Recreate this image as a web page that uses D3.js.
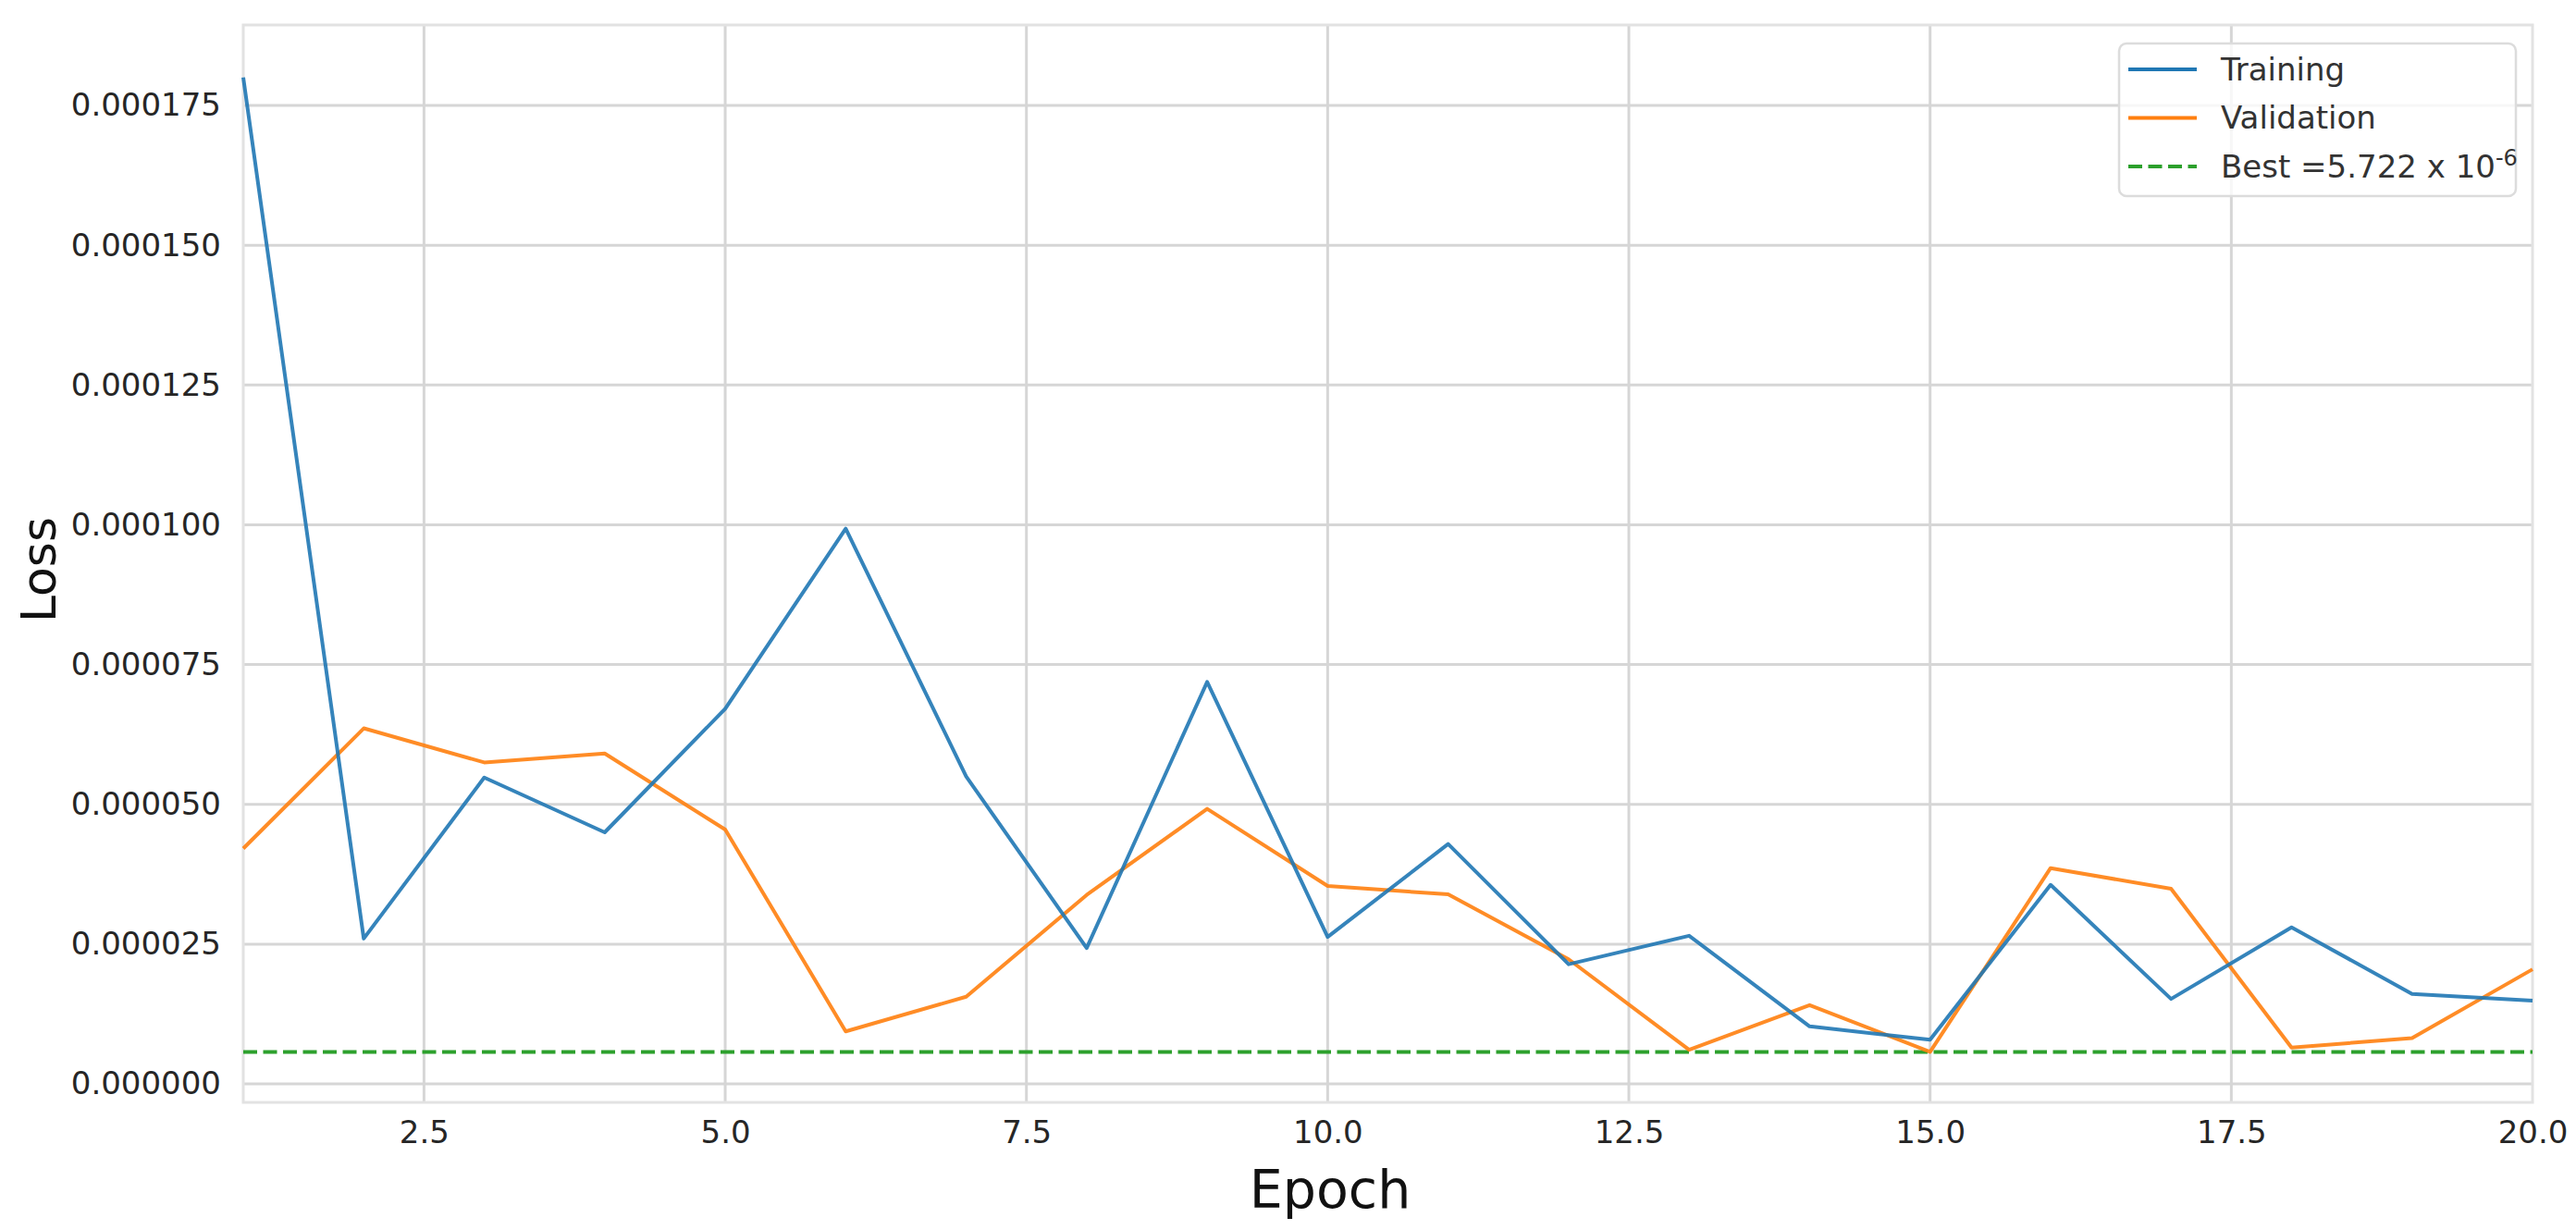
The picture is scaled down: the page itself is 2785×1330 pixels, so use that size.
<!DOCTYPE html>
<html>
<head>
<meta charset="utf-8">
<script src="https://d3js.org/d3.v7.min.js"></script>
<style>
    body { margin: 0; background: white; }
    text { font-family: "DejaVu Sans", sans-serif; }
</style>
</head>
<body>
<svg id="chart-container"></svg>
<script>
// loss per epoch
var epochs = [1, 2, 3, 4, 5, 6, 7, 8, 9, 10, 11, 12, 13, 14, 15, 16, 17, 18, 19, 20];
var trainingLoss = [180.0e-6, 26.0e-6, 54.8e-6, 45.0e-6, 67.1e-6, 99.3e-6, 55.0e-6, 24.3e-6, 71.9e-6, 26.3e-6,
                    42.9e-6, 21.4e-6, 26.5e-6, 10.3e-6, 7.9e-6, 35.6e-6, 15.2e-6, 28.0e-6, 16.1e-6, 14.9e-6];
var validationLoss = [42.1e-6, 63.6e-6, 57.5e-6, 59.1e-6, 45.5e-6, 9.4e-6, 15.6e-6, 33.8e-6, 49.2e-6, 35.4e-6,
                      33.9e-6, 22.3e-6, 6.1e-6, 14.1e-6, 5.722e-6, 38.6e-6, 34.9e-6, 6.5e-6, 8.2e-6, 20.5e-6];
var bestLoss = 5.722e-6;
var xTicks = [2.5, 5.0, 7.5, 10.0, 12.5, 15.0, 17.5, 20.0];
var yTicks = [0, 25e-6, 50e-6, 75e-6, 100e-6, 125e-6, 150e-6, 175e-6];
var yLimits = [-3.3e-6, 189.4e-6];

var W = 2785, H = 1330;
var svg = d3.select("#chart-container")
    .attr("width", W)
    .attr("height", H);

var margin = { top: 27, right: 47, bottom: 138, left: 263 },
    width = W - margin.left - margin.right,
    height = H - margin.top - margin.bottom;

var g = svg.append("g")
    .attr("transform", `translate(${margin.left},${margin.top})`);

var x = d3.scaleLinear()
    .domain([1, 20])
    .range([0, width]);

var y = d3.scaleLinear()
    .domain(yLimits)
    .range([height, 0]);

// grid
g.append("g")
    .selectAll("line")
    .data(yTicks)
    .join("line")
        .attr("x1", 0).attr("x2", width)
        .attr("y1", d => y(d)).attr("y2", d => y(d))
        .attr("stroke", "#d6d6d6")
        .attr("stroke-width", 3);

g.append("g")
    .selectAll("line")
    .data(xTicks.filter(d => d < 20))
    .join("line")
        .attr("x1", d => x(d)).attr("x2", d => x(d))
        .attr("y1", 0).attr("y2", height)
        .attr("stroke", "#d6d6d6")
        .attr("stroke-width", 3);

// frame
g.append("rect")
    .attr("width", width)
    .attr("height", height)
    .attr("fill", "none")
    .attr("stroke", "#e2e2e2")
    .attr("stroke-width", 3);

// axes (no tick marks, only labels)
var xAxis = d3.axisBottom(x).tickValues(xTicks).tickFormat(d3.format(".1f")).tickSize(0).tickPadding(20);
var yAxis = d3.axisLeft(y).tickValues(yTicks).tickFormat(d3.format(".6f")).tickSize(0).tickPadding(24);

var gx = g.append("g")
    .attr("transform", `translate(0, ${height})`)
    .call(xAxis);
var gy = g.append("g")
    .call(yAxis);

[gx, gy].forEach(a => {
    a.select(".domain").remove();
    a.selectAll("text")
        .attr("font-family", "DejaVu Sans")
        .attr("font-size", 34)
        .attr("fill", "#262626");
});

// axis labels
svg.append("text")
    .attr("x", 1438)
    .attr("y", 1306)
    .attr("text-anchor", "middle")
    .attr("font-size", 57)
    .attr("fill", "#111")
    .text("Epoch");

svg.append("text")
    .attr("transform", "rotate(-90)")
    .attr("x", -616)
    .attr("y", 60)
    .attr("text-anchor", "middle")
    .attr("font-size", 52)
    .attr("fill", "#111")
    .text("Loss");

// lines
var line = (vals) => d3.line()
    .x((d, i) => x(epochs[i]))
    .y(d => y(d))(vals);

g.append("line")
    .attr("x1", 0).attr("x2", width)
    .attr("y1", y(bestLoss)).attr("y2", y(bestLoss))
    .attr("stroke", "#2ca02c")
    .attr("stroke-width", 4)
    .attr("stroke-dasharray", "15,6.5");

g.append("path")
    .attr("d", line(validationLoss))
    .attr("fill", "none")
    .attr("stroke", "#ff7f0e")
    .attr("stroke-width", 4)
    .attr("stroke-linejoin", "round")
    .attr("opacity", 0.9);

g.append("path")
    .attr("d", line(trainingLoss))
    .attr("fill", "none")
    .attr("stroke", "#1f77b4")
    .attr("stroke-width", 4)
    .attr("stroke-linejoin", "round")
    .attr("opacity", 0.9);

// legend
var legend = svg.append("g")
    .attr("transform", "translate(2291, 47)");

legend.append("rect")
    .attr("width", 429)
    .attr("height", 165)
    .attr("rx", 8)
    .attr("fill", "white")
    .attr("fill-opacity", 0.8)
    .attr("stroke", "#dcdcdc")
    .attr("stroke-width", 2.5);

var legendItems = [
    { label: "Training", color: "#1f77b4", dash: null },
    { label: "Validation", color: "#ff7f0e", dash: null },
    { label: "Best =5.722 x 10", color: "#2ca02c", dash: "15,6.5", sup: "-6" }
];

legendItems.forEach((d, i) => {
    var cy = 28 + i * 52.5;
    legend.append("line")
        .attr("x1", 10).attr("x2", 84)
        .attr("y1", cy).attr("y2", cy)
        .attr("stroke", d.color)
        .attr("stroke-width", 4)
        .attr("stroke-dasharray", d.dash);
    var t = legend.append("text")
        .attr("x", 110)
        .attr("y", cy)
        .attr("dy", "0.35em")
        .attr("font-size", 34)
        .attr("fill", "#333")
        .text(d.label);
    if (d.sup) {
        t.append("tspan")
            .attr("dy", "-0.55em")
            .attr("font-size", 24)
            .text(d.sup);
    }
});
</script>
</body>
</html>
